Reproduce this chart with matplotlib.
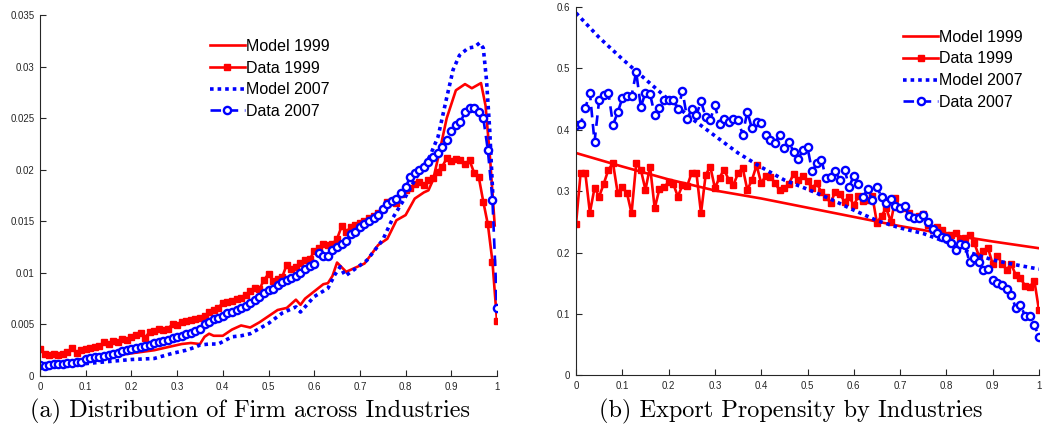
import numpy as np
import matplotlib
matplotlib.use("Agg")
import matplotlib.pyplot as plt

# ---- panel (a): share of firms across industries ----
grid = np.linspace(0, 1, 101)

dist_data_1999 = [
    0.0026, 0.0021, 0.0020, 0.0021, 0.0020, 0.0021, 0.0023, 0.0027, 0.0022, 0.0025, 0.0026,
    0.0027, 0.0028, 0.0029, 0.0033, 0.0031, 0.0034, 0.0033, 0.0036, 0.0035, 0.0038,
    0.0040, 0.0042, 0.0037, 0.0043, 0.0044, 0.0046, 0.0045, 0.0046, 0.0050, 0.0049,
    0.0052, 0.0053, 0.0054, 0.0055, 0.0056, 0.0058, 0.0062, 0.0064, 0.0066, 0.0071,
    0.0072, 0.0073, 0.0075, 0.0076, 0.0079, 0.0082, 0.0085, 0.0084, 0.0093, 0.0099,
    0.0092, 0.0094, 0.0096, 0.0108, 0.0104, 0.0106, 0.0110, 0.0112, 0.0113, 0.0121,
    0.0124, 0.0128, 0.0127, 0.0128, 0.0133, 0.0145, 0.0140, 0.0144, 0.0146, 0.0148,
    0.0150, 0.0153, 0.0155, 0.0158, 0.0162, 0.0169, 0.0170, 0.0168, 0.0176, 0.0180,
    0.0182, 0.0186, 0.0188, 0.0185, 0.0190, 0.0192, 0.0198, 0.0203, 0.0211, 0.0208,
    0.0210, 0.0209, 0.0206, 0.0209, 0.0197, 0.0193, 0.0169, 0.0147, 0.0111, 0.0053,
]
# last value at x=1
dist_data_1999 = dist_data_1999[:100] + [0.0053]

dist_data_2007 = [
    0.0011, 0.0010, 0.0011, 0.0012, 0.0012, 0.0012, 0.0013, 0.0013, 0.0014, 0.0014, 0.0016,
    0.0017, 0.0018, 0.0018, 0.0019, 0.0020, 0.0021, 0.0022, 0.0024, 0.0025, 0.0026,
    0.0027, 0.0028, 0.0029, 0.0030, 0.0032, 0.0033, 0.0034, 0.0035, 0.0037, 0.0038,
    0.0039, 0.0041, 0.0042, 0.0044, 0.0046, 0.0050, 0.0052, 0.0055, 0.0056, 0.0058,
    0.0061, 0.0062, 0.0064, 0.0066, 0.0068, 0.0071, 0.0074, 0.0077, 0.0080, 0.0083,
    0.0084, 0.0088, 0.0091, 0.0093, 0.0095, 0.0097, 0.0100, 0.0104, 0.0107, 0.0109,
    0.0119, 0.0116, 0.0116, 0.0122, 0.0125, 0.0128, 0.0131, 0.0138, 0.0140, 0.0144,
    0.0147, 0.0150, 0.0153, 0.0156, 0.0162, 0.0167, 0.0170, 0.0172, 0.0177, 0.0183,
    0.0193, 0.0197, 0.0200, 0.0203, 0.0207, 0.0212, 0.0216, 0.0222, 0.0229, 0.0238,
    0.0243, 0.0246, 0.0256, 0.0260, 0.0260, 0.0256, 0.0250, 0.0219, 0.0171, 0.0066,
]
dist_data_2007 = dist_data_2007[:100] + [0.0066]

dist_model_1999_x = [
    0.00, 0.05, 0.10, 0.15, 0.20, 0.25, 0.28, 0.31, 0.33, 0.35, 0.36, 0.37, 0.38, 0.40,
    0.42, 0.44, 0.46, 0.48, 0.50, 0.52, 0.54, 0.56, 0.57, 0.58, 0.60, 0.62, 0.63, 0.64,
    0.65, 0.67, 0.69, 0.71, 0.72, 0.74, 0.76, 0.77, 0.78, 0.80, 0.82, 0.84, 0.85, 0.86,
    0.875, 0.89, 0.91, 0.93, 0.945, 0.965, 0.975, 0.985, 0.995,
]
dist_model_1999 = [
    0.0010, 0.0013, 0.0016, 0.0019, 0.0022, 0.0025, 0.0028, 0.0031, 0.0032, 0.0031, 0.0038,
    0.0041, 0.0039, 0.0039, 0.0045, 0.0049, 0.0047, 0.0052, 0.0058, 0.0064, 0.0066, 0.0074,
    0.0069, 0.0075, 0.0082, 0.0089, 0.0090, 0.0097, 0.0110, 0.0101, 0.0105, 0.0109, 0.0115,
    0.0127, 0.0133, 0.0142, 0.0151, 0.0156, 0.0172, 0.0178, 0.0180, 0.0190, 0.0219, 0.0250,
    0.0277, 0.0283, 0.0279, 0.0284, 0.0262, 0.0210, 0.0146,
]

dist_model_2007_x = [
    0.00, 0.05, 0.10, 0.15, 0.20, 0.25, 0.29, 0.32, 0.34, 0.35, 0.37, 0.39, 0.42, 0.44,
    0.46, 0.48, 0.50, 0.53, 0.56, 0.57, 0.60, 0.63, 0.645, 0.657, 0.668, 0.69, 0.715,
    0.75, 0.773, 0.795, 0.824, 0.853, 0.871, 0.889, 0.904, 0.918, 0.937, 0.951, 0.962,
    0.97, 0.977, 0.984, 0.991,
]
dist_model_2007 = [
    0.0008, 0.0010, 0.0012, 0.0014, 0.0016, 0.0017, 0.0022, 0.0025, 0.0028, 0.0030, 0.0031,
    0.0031, 0.0038, 0.0039, 0.0041, 0.0046, 0.0051, 0.0061, 0.0067, 0.0062, 0.0077, 0.0085,
    0.0098, 0.0106, 0.0097, 0.0104, 0.0112, 0.0132, 0.0154, 0.0170, 0.0193, 0.0213, 0.0232,
    0.0268, 0.0297, 0.0311, 0.0318, 0.0319, 0.0323, 0.0318, 0.0287, 0.0239, 0.0174,
]

# ---- panel (b): export propensity ----
exp_data_1999 = [
    0.246, 0.330, 0.330, 0.265, 0.305, 0.291, 0.312, 0.335, 0.345, 0.297, 0.306,
    0.297, 0.264, 0.345, 0.335, 0.302, 0.340, 0.272, 0.303, 0.307, 0.314,
    0.312, 0.291, 0.310, 0.308, 0.330, 0.330, 0.264, 0.326, 0.340, 0.305,
    0.322, 0.335, 0.318, 0.310, 0.329, 0.338, 0.302, 0.318, 0.342, 0.313,
    0.325, 0.323, 0.313, 0.301, 0.305, 0.312, 0.328, 0.318, 0.325, 0.316,
    0.305, 0.313, 0.298, 0.290, 0.281, 0.299, 0.295, 0.283, 0.291, 0.277,
    0.292, 0.284, 0.286, 0.292, 0.248, 0.260, 0.272, 0.250, 0.288, 0.272,
    0.272, 0.265, 0.258, 0.260, 0.262, 0.245, 0.236, 0.241, 0.237, 0.228,
    0.229, 0.232, 0.222, 0.224, 0.229, 0.216, 0.195, 0.203, 0.207, 0.181,
    0.195, 0.182, 0.172, 0.181, 0.163, 0.158, 0.146, 0.144, 0.154, 0.106,
]
exp_data_1999 = exp_data_1999[:100] + [0.106]
exp_data_1999[99] = 0.154

exp_data_2007 = [
    0.408, 0.409, 0.435, 0.460, 0.380, 0.448, 0.456, 0.460, 0.408, 0.428, 0.451,
    0.455, 0.455, 0.494, 0.437, 0.460, 0.458, 0.424, 0.435, 0.448, 0.448,
    0.449, 0.433, 0.463, 0.418, 0.433, 0.424, 0.446, 0.421, 0.416, 0.440,
    0.410, 0.417, 0.413, 0.417, 0.415, 0.392, 0.429, 0.402, 0.413, 0.411,
    0.391, 0.383, 0.379, 0.391, 0.370, 0.380, 0.364, 0.352, 0.367, 0.371,
    0.332, 0.345, 0.351, 0.321, 0.323, 0.332, 0.318, 0.335, 0.307, 0.325,
    0.312, 0.291, 0.303, 0.285, 0.307, 0.290, 0.280, 0.287, 0.276, 0.272,
    0.275, 0.259, 0.256, 0.256, 0.261, 0.250, 0.239, 0.231, 0.226, 0.223,
    0.216, 0.204, 0.214, 0.212, 0.184, 0.191, 0.185, 0.172, 0.174, 0.155,
    0.151, 0.147, 0.140, 0.131, 0.109, 0.114, 0.097, 0.097, 0.082, 0.062,
]

exp_model_1999_x = [0.0, 0.1, 0.2, 0.3, 0.4, 0.5, 0.6, 0.7, 0.8, 0.9, 1.0]
exp_model_1999 = [0.362, 0.340, 0.319, 0.301, 0.288, 0.273, 0.258, 0.243, 0.230, 0.218, 0.207]

exp_model_2007_x = [0.0, 0.05, 0.1, 0.15, 0.2, 0.25, 0.3, 0.35, 0.4, 0.45, 0.5,
                    0.55, 0.6, 0.65, 0.7, 0.75, 0.8, 0.85, 0.9, 0.95, 1.0]
exp_model_2007 = [0.590, 0.550, 0.515, 0.482, 0.449, 0.418, 0.390, 0.362, 0.339, 0.318, 0.303,
                  0.287, 0.269, 0.252, 0.240, 0.231, 0.217, 0.200, 0.188, 0.180, 0.173]

x_ticks = np.round(np.arange(0, 1.01, 0.1), 1)
x_labels = ["0", "0.1", "0.2", "0.3", "0.4", "0.5", "0.6", "0.7", "0.8", "0.9", "1"]
dist_yticks = np.round(np.arange(0, 0.0351, 0.005), 3)
dist_ylabels = ["0", "0.005", "0.01", "0.015", "0.02", "0.025", "0.03", "0.035"]
exp_yticks = np.round(np.arange(0, 0.61, 0.1), 1)
exp_ylabels = ["0", "0.1", "0.2", "0.3", "0.4", "0.5", "0.6"]

captions = ["(a) Distribution of Firm across Industries",
            "(b) Export Propensity by Industries"]
labels = ["Model 1999", "Data 1999", "Model 2007", "Data 2007"]

RED = "#ff0000"
BLUE = "#0000ff"
AX_COLOR = "#262626"

plt.rcParams["font.family"] = "Liberation Sans"

fig = plt.figure(figsize=(10.46, 4.32), dpi=100)
ax1 = fig.add_axes([40 / 1046, 1 - 376 / 432, 457 / 1046, 361 / 432])
ax2 = fig.add_axes([576 / 1046, 1 - 375.4 / 432, 463 / 1046, 368.6 / 432])


def draw(ax, model99_x, model99, data99, model07_x, model07, data07):
    ax.plot(model99_x, model99, color=RED, lw=1.9, label=labels[0])
    ax.plot(grid, data99, color=RED, lw=1.9, marker="s", ms=4.2,
            mec=RED, mfc=RED, label=labels[1])
    ax.plot(model07_x, model07, color=BLUE, lw=2.6, ls=(0, (1, 1.1)),
            label=labels[2])
    ax.plot(grid, data07, color=BLUE, lw=1.9, ls=(0, (4, 2.5)), marker="o",
            ms=5.2, mew=1.7, mec=BLUE, mfc="white", label=labels[3])
    ax.set_xlim(0, 1)
    for side in ("top", "right"):
        ax.spines[side].set_visible(False)
    for side in ("left", "bottom"):
        ax.spines[side].set_color(AX_COLOR)
        ax.spines[side].set_linewidth(0.8)
    ax.tick_params(direction="in", length=4, width=0.8, colors=AX_COLOR,
                   labelsize=7, pad=4)
    ax.set_xticks(x_ticks)
    ax.set_xticklabels(x_labels)


legend_kw = dict(loc="upper left", frameon=False, fontsize=11.5,
                 handlelength=2.2, handletextpad=0.05, labelspacing=0.42,
                 borderpad=0.2)

draw(ax1, dist_model_1999_x, dist_model_1999, dist_data_1999,
     dist_model_2007_x, dist_model_2007, dist_data_2007)
ax1.set_ylim(0, 0.035)
ax1.set_yticks(dist_yticks)
ax1.set_yticklabels(dist_ylabels)
ax1.legend(bbox_to_anchor=(0.347, 0.965), **legend_kw)

draw(ax2, exp_model_1999_x, exp_model_1999, exp_data_1999,
     exp_model_2007_x, exp_model_2007, exp_data_2007)
ax2.set_ylim(0, 0.6)
ax2.set_yticks(exp_yticks)
ax2.set_yticklabels(exp_ylabels)
ax2.legend(bbox_to_anchor=(0.682, 0.968), **legend_kw)

fig.text(250 / 1046, 1 - 411 / 432, captions[0], family="cmr10",
         fontsize=17.5, ha="center", va="center")
fig.text(791 / 1046, 1 - 411 / 432, captions[1], family="cmr10",
         fontsize=17.5, ha="center", va="center")

fig.savefig("out.png", dpi=100)
